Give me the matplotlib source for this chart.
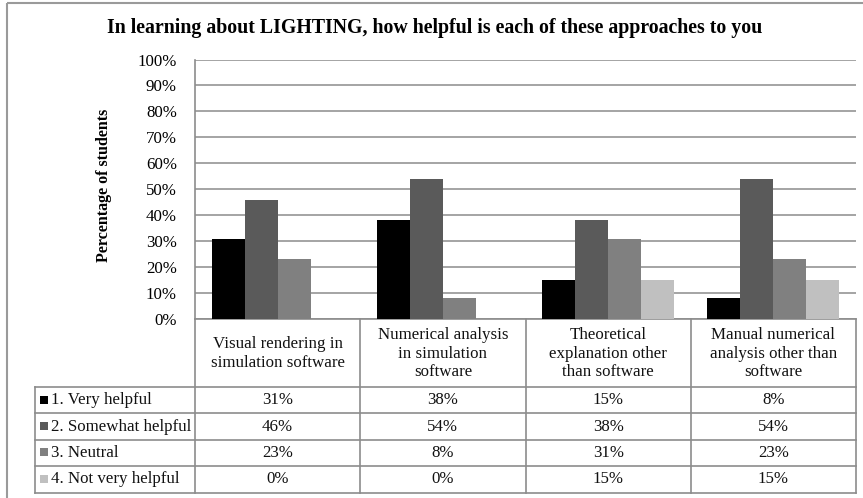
import matplotlib
matplotlib.use("Agg")
import matplotlib.pyplot as plt
from matplotlib.patches import Rectangle
import numpy as np

plt.rcParams['font.family'] = ['Liberation Serif', 'DejaVu Serif']

title = "In learning about LIGHTING, how helpful is each of these approaches to you"
ylabel = "Percentage of students"
categories = ["Visual rendering in\nsimulation software",
              "Numerical analysis\nin simulation\nsoftware",
              "Theoretical\nexplanation other\nthan software",
              "Manual numerical\nanalysis other than\nsoftware"]
series_names = ["1. Very helpful", "2. Somewhat helpful", "3. Neutral", "4. Not very helpful"]
very_helpful = [31, 38, 15, 8]
somewhat_helpful = [46, 54, 38, 54]
neutral = [23, 8, 31, 23]
not_very_helpful = [0, 0, 15, 15]
series_values = [very_helpful, somewhat_helpful, neutral, not_very_helpful]
colors = ["#000000", "#5a5a5a", "#808080", "#c0c0c0"]
yticks = [0, 10, 20, 30, 40, 50, 60, 70, 80, 90, 100]

W, H = 863, 498
fig = plt.figure(figsize=(W / 100, H / 100), dpi=100)

# plot area in pixel coords
px_left, px_right, px_top, px_bottom = 195, 856, 59.5, 319
ax = fig.add_axes([px_left / W, 1 - px_bottom / H, (px_right - px_left) / W, (px_bottom - px_top) / H])
n = len(categories)
x = np.arange(n)
bw = 0.2
for i, (vals, c) in enumerate(zip(series_values, colors)):
    ax.bar(x + (i - 1.5) * bw, vals, width=bw, color=c, zorder=3, linewidth=0)
ax.set_xlim(-0.5, n - 0.5)
ax.set_ylim(0, 100)
ax.set_yticks(yticks)
ax.set_yticklabels([f"{t}%" for t in yticks], fontsize=12.2)
ax.set_xticks([])
ax.tick_params(axis='y', length=0, pad=13)
ax.yaxis.grid(True, color="#8c8c8c", linewidth=1.1, zorder=0)
for s in ["top", "right"]:
    ax.spines[s].set_visible(False)
ax.spines["left"].set_color("#8c8c8c")
ax.spines["left"].set_linewidth(1.2)
ax.spines["bottom"].set_color("#8c8c8c")
ax.spines["bottom"].set_linewidth(1.2)
ax.set_ylabel(ylabel, fontsize=11.5, fontweight="bold")
ax.yaxis.set_label_coords((112 - px_left) / (px_right - px_left), (px_bottom - 185) / (px_bottom - px_top))

fig.text(0.5 + 0.0035, 1 - 28 / H, title, ha="center", va="center", fontsize=14.3, fontweight="bold")

# overlay axes in pixel coordinates for the data table
ov = fig.add_axes([0, 0, 1, 1], zorder=5)
ov.set_xlim(0, W)
ov.set_ylim(H, 0)
ov.axis("off")
ov.patch.set_alpha(0)

lc = "#8c8c8c"
lw = 1.2
leg_left = 35
fs = 12.2
colw = (px_right - px_left) / n
col_edges = [px_left + k * colw for k in range(n + 1)]
cat_top, cat_bottom = px_bottom, 387
row_h = (492.5 - cat_bottom) / len(series_names)
row_edges = [cat_bottom + k * row_h for k in range(len(series_names) + 1)]

# vertical lines
for xe in col_edges:
    ov.plot([xe, xe], [cat_top, row_edges[-1]], color=lc, lw=lw)
ov.plot([leg_left, leg_left], [cat_bottom, row_edges[-1]], color=lc, lw=lw)
# horizontal lines
for ye in row_edges:
    ov.plot([leg_left, px_right], [ye, ye], color=lc, lw=lw)

# category labels
for k, cat in enumerate(categories):
    ov.text((col_edges[k] + col_edges[k + 1]) / 2, (cat_top + cat_bottom) / 2 + 0.5, cat,
            ha="center", va="center", fontsize=fs, linespacing=1.17, color="#111111")

# rows
for r, (name, vals, c) in enumerate(zip(series_names, series_values, colors)):
    yc = (row_edges[r] + row_edges[r + 1]) / 2
    ov.add_patch(Rectangle((39.5, yc - 4.5), 8, 8, color=c, lw=0))
    ov.text(51, yc, name, ha="left", va="center", fontsize=fs, color="#111111")
    for k, v in enumerate(vals):
        ov.text((col_edges[k] + col_edges[k + 1]) / 2, yc, f"{v}%", ha="center", va="center",
                fontsize=fs, color="#111111")

# figure border
ov.add_patch(Rectangle((7, 3), W, H, fill=False, edgecolor="#9a9a9a", lw=1.5))

fig.savefig("out.png", dpi=100)
